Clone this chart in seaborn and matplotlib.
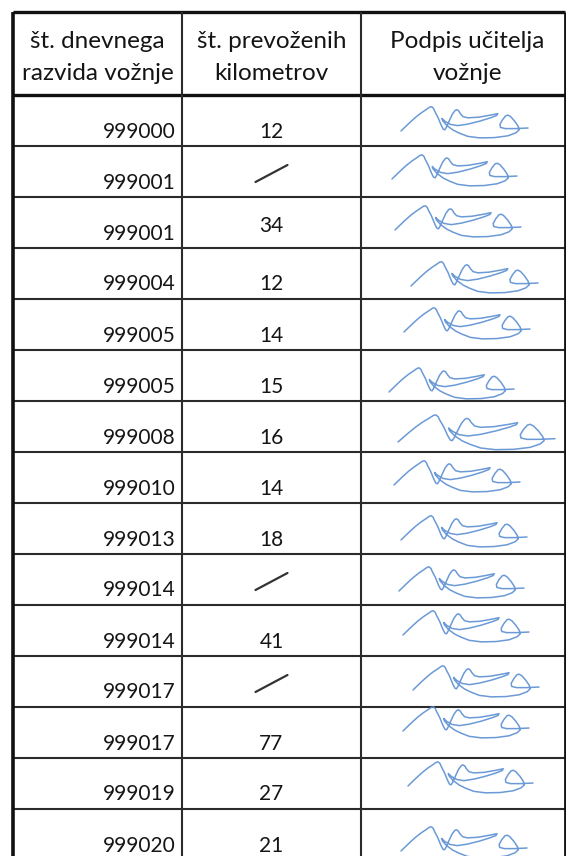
import numpy as np
import matplotlib
matplotlib.use("Agg")
import matplotlib.pyplot as plt
import seaborn as sns

# Table content
HEADERS = [
    ["št. dnevnega", "razvida vožnje"],
    ["št. prevoženih", "kilometrov"],
    ["Podpis učitelja", "vožnje"],
]
REPORT_NO = ["999000", "999001", "999001", "999004", "999005", "999005", "999008",
             "999010", "999013", "999014", "999014", "999017", "999017", "999019", "999020"]
KILOMETRES = ["12", None, "34", "12", "14", "15", "16", "14", "18", None, "41", None,
              "77", "27", "21"]

# Layout (pixel units of the 566x856 canvas)
W, H = 566, 856
COL_X = [13, 182, 361, 565]
TOP, HEAD_BOTTOM, ROW_H = 12, 95, 51.0
KM_RAISE = {2: 8}  # "34" sits higher in its cell

# Signature stroke (traced shape, start at left) and where each copy sits
SIG_X = [50, 65, 85, 105, 125, 145, 158, 165, 172, 175, 188, 200, 208, 214, 220, 230,
         242, 252, 258, 265, 272, 282, 300, 340, 385, 412, 408, 385, 345, 300, 262, 235,
         215, 203, 206, 222, 245, 268, 300, 345, 400, 450, 480, 492, 488, 475, 460, 450,
         442, 430, 420, 422, 440, 480, 525]
SIG_Y = [108, 95, 78, 62, 48, 36, 28, 27, 33, 40, 62, 88, 102, 104, 95, 75,
         52, 40, 37, 40, 50, 60, 64, 62, 55, 50, 56, 64, 75, 85, 90, 86,
         76, 66, 74, 90, 105, 115, 126, 131, 130, 124, 114, 104, 92, 75, 60, 55,
         57, 70, 86, 96, 100, 100, 98]
SIG_PLACE = [(401, 131, 127), (392, 179, 125), (395, 230, 126), (411, 286, 127),
             (404, 332, 126), (389, 392, 125), (398, 442, 157), (394, 485, 126),
             (401, 540, 126), (399, 591, 125), (403, 635, 126), (413, 690, 126),
             (403, 731, 126), (408, 786, 125), (401, 851, 126)]

sns.set_theme(style="white")
plt.rcParams["font.family"] = ["Lato", "DejaVu Sans"]

fig = plt.figure(figsize=(W / 100, H / 100), dpi=100)
ax = fig.add_axes([0, 0, 1, 1])

line_c = "#2b2b2b"
txt_c = "#151515"
row_bottoms = [HEAD_BOTTOM + ROW_H * (i + 1) for i in range(len(REPORT_NO))]

# grid
ax.hlines([b for b in row_bottoms if b < H], COL_X[0], COL_X[-1], color=line_c, lw=1.5)
ax.hlines(HEAD_BOTTOM, COL_X[0], COL_X[-1], color="#111111", lw=2.4)
ax.hlines(TOP, COL_X[0], COL_X[-1], color="#111111", lw=2.4)
ax.vlines(COL_X[1:3], TOP, H, color=line_c, lw=1.5)
ax.vlines(COL_X[0], TOP, H, color="#111111", lw=2.6)
ax.vlines(COL_X[-1], TOP, H, color="#111111", lw=2.0)

# header
for i, (l1, l2) in enumerate(HEADERS):
    cx = (COL_X[i] + COL_X[i + 1]) / 2 + (4 if i == 2 else 0)
    ax.text(cx, 41, l1, ha="center", va="center", fontsize=17.5, color=txt_c)
    ax.text(cx, 73, l2, ha="center", va="center", fontsize=17.5, color=txt_c)

# body
km_cx = (COL_X[1] + COL_X[2]) / 2
for i, (rep, km) in enumerate(zip(REPORT_NO, KILOMETRES)):
    base = row_bottoms[i] - 8.5
    ax.text(176, base, rep, ha="right", va="baseline", fontsize=15, color=txt_c)
    if km is None:
        sns.lineplot(x=[km_cx - 16, km_cx + 16], y=[base - 6.5, base - 23.5], ax=ax,
                     color="#333333", lw=1.6, sort=False, estimator=None)
    else:
        ax.text(km_cx, base - KM_RAISE.get(i, 0), km, ha="center", va="baseline",
                fontsize=15, color=txt_c)

# signatures
sx0 = np.array(SIG_X, dtype=float)
sy0 = np.array(SIG_Y, dtype=float)
rel_x = (sx0 - sx0[0]) / (sx0[-1] - sx0[0])
rel_y = (sy0 - sy0[0]) / 3.0
for x0, y0, w in SIG_PLACE:
    ys = np.sqrt(w / 157.0)
    sns.lineplot(x=x0 + rel_x * w, y=y0 + rel_y * ys, ax=ax, color="#5b8fd2",
                 lw=1.1, alpha=0.9, sort=False, estimator=None)

ax.set_xlim(0, W)
ax.set_ylim(H, 0)
ax.axis("off")
fig.savefig("out.png", dpi=100)
